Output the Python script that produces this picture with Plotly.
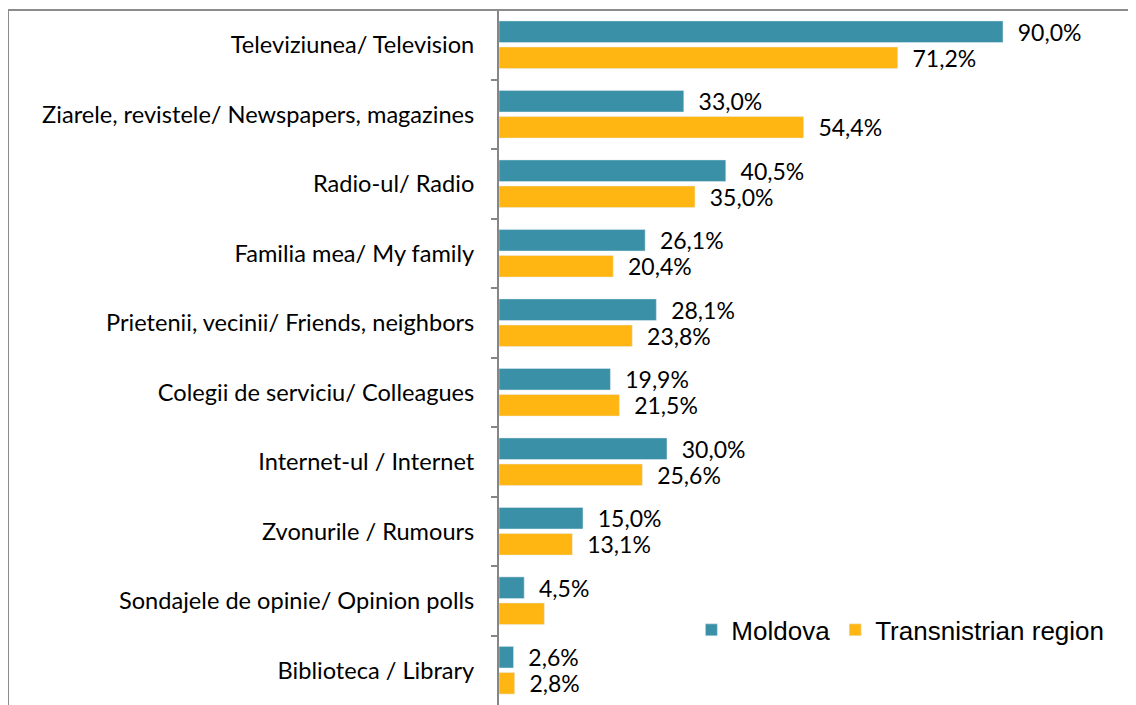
import plotly.graph_objects as go

categories = [
    "Televiziunea/ Television",
    "Ziarele, revistele/ Newspapers, magazines",
    "Radio-ul/ Radio",
    "Familia mea/ My family",
    "Prietenii, vecinii/ Friends, neighbors",
    "Colegii de serviciu/ Colleagues",
    "Internet-ul / Internet",
    "Zvonurile / Rumours",
    "Sondajele de opinie/ Opinion polls",
    "Biblioteca / Library",
]
moldova = [90.0, 33.0, 40.5, 26.1, 28.1, 19.9, 30.0, 15.0, 4.5, 2.6]
transnistria = [71.2, 54.4, 35.0, 20.4, 23.8, 21.5, 25.6, 13.1, 8.1, 2.8]
transnistria_show_label = [True, True, True, True, True, True, True, True, False, True]

def fmt(v):
    return "\u00a0\u00a0" + f"{v:.1f}".replace(".", ",") + "%"

TEAL = "#3A91A7"
ORANGE = "#FFB612"
FAMILY = "Lato, 'Open Sans', sans-serif"
DATA_FONT = dict(family=FAMILY, size=23, color="#000000")
CAT_FONT = dict(family=FAMILY, size=23.6, color="#000000")

fig = go.Figure()
fig.add_trace(go.Bar(
    y=categories, x=moldova, orientation="h", name="Moldova",
    marker=dict(color=TEAL),
    text=[fmt(v) for v in moldova], textposition="outside",
    textfont=DATA_FONT, constraintext="none", cliponaxis=False,
))
fig.add_trace(go.Bar(
    y=categories, x=transnistria, orientation="h", name="Transnistrian region",
    marker=dict(color=ORANGE),
    text=[fmt(v) if s else "" for v, s in zip(transnistria, transnistria_show_label)],
    textposition="outside",
    textfont=DATA_FONT, constraintext="none", cliponaxis=False,
))

W, H = 1128, 697
ml, mt, mb, mr = 491, 2, 0, 0
pw = W - ml - mr
px_per_unit = 5.6
xl = -(ml - 0) / pw

fig.update_layout(
    width=W, height=H,
    margin=dict(l=ml, r=mr, t=mt, b=mb, pad=0),
    paper_bgcolor="white", plot_bgcolor="white",
    barmode="group", bargap=0.25, bargroupgap=0.17,
    showlegend=True,
    legend=dict(
        orientation="h", x=0.302, y=0.108, xanchor="left", yanchor="middle",
        font=dict(family="'Liberation Sans', Arial, sans-serif", size=26, color="#000"),
        bgcolor="rgba(0,0,0,0)", itemwidth=30, tracegroupgap=0,
    ),
    xaxis=dict(range=[0, pw / px_per_unit], visible=False, showgrid=False, zeroline=False),
    yaxis=dict(
        autorange="reversed", type="category",
        showline=True, linecolor="#868686", linewidth=2,
        ticks="outside", ticklen=6, tickcolor="#868686", tickwidth=2,
        tickson="boundaries", ticklabelstandoff=18,
        tickfont=CAT_FONT, showgrid=False,
    ),
    shapes=[
        dict(type="line", xref="paper", yref="paper",
             x0=xl, x1=1.01, y0=1, y1=1,
             line=dict(color="#8C8C8C", width=2)),
        dict(type="line", xref="paper", yref="paper",
             x0=xl, x1=xl, y0=1, y1=-0.05,
             line=dict(color="#8C8C8C", width=2)),
    ],
)

fig.write_html("out.html")
